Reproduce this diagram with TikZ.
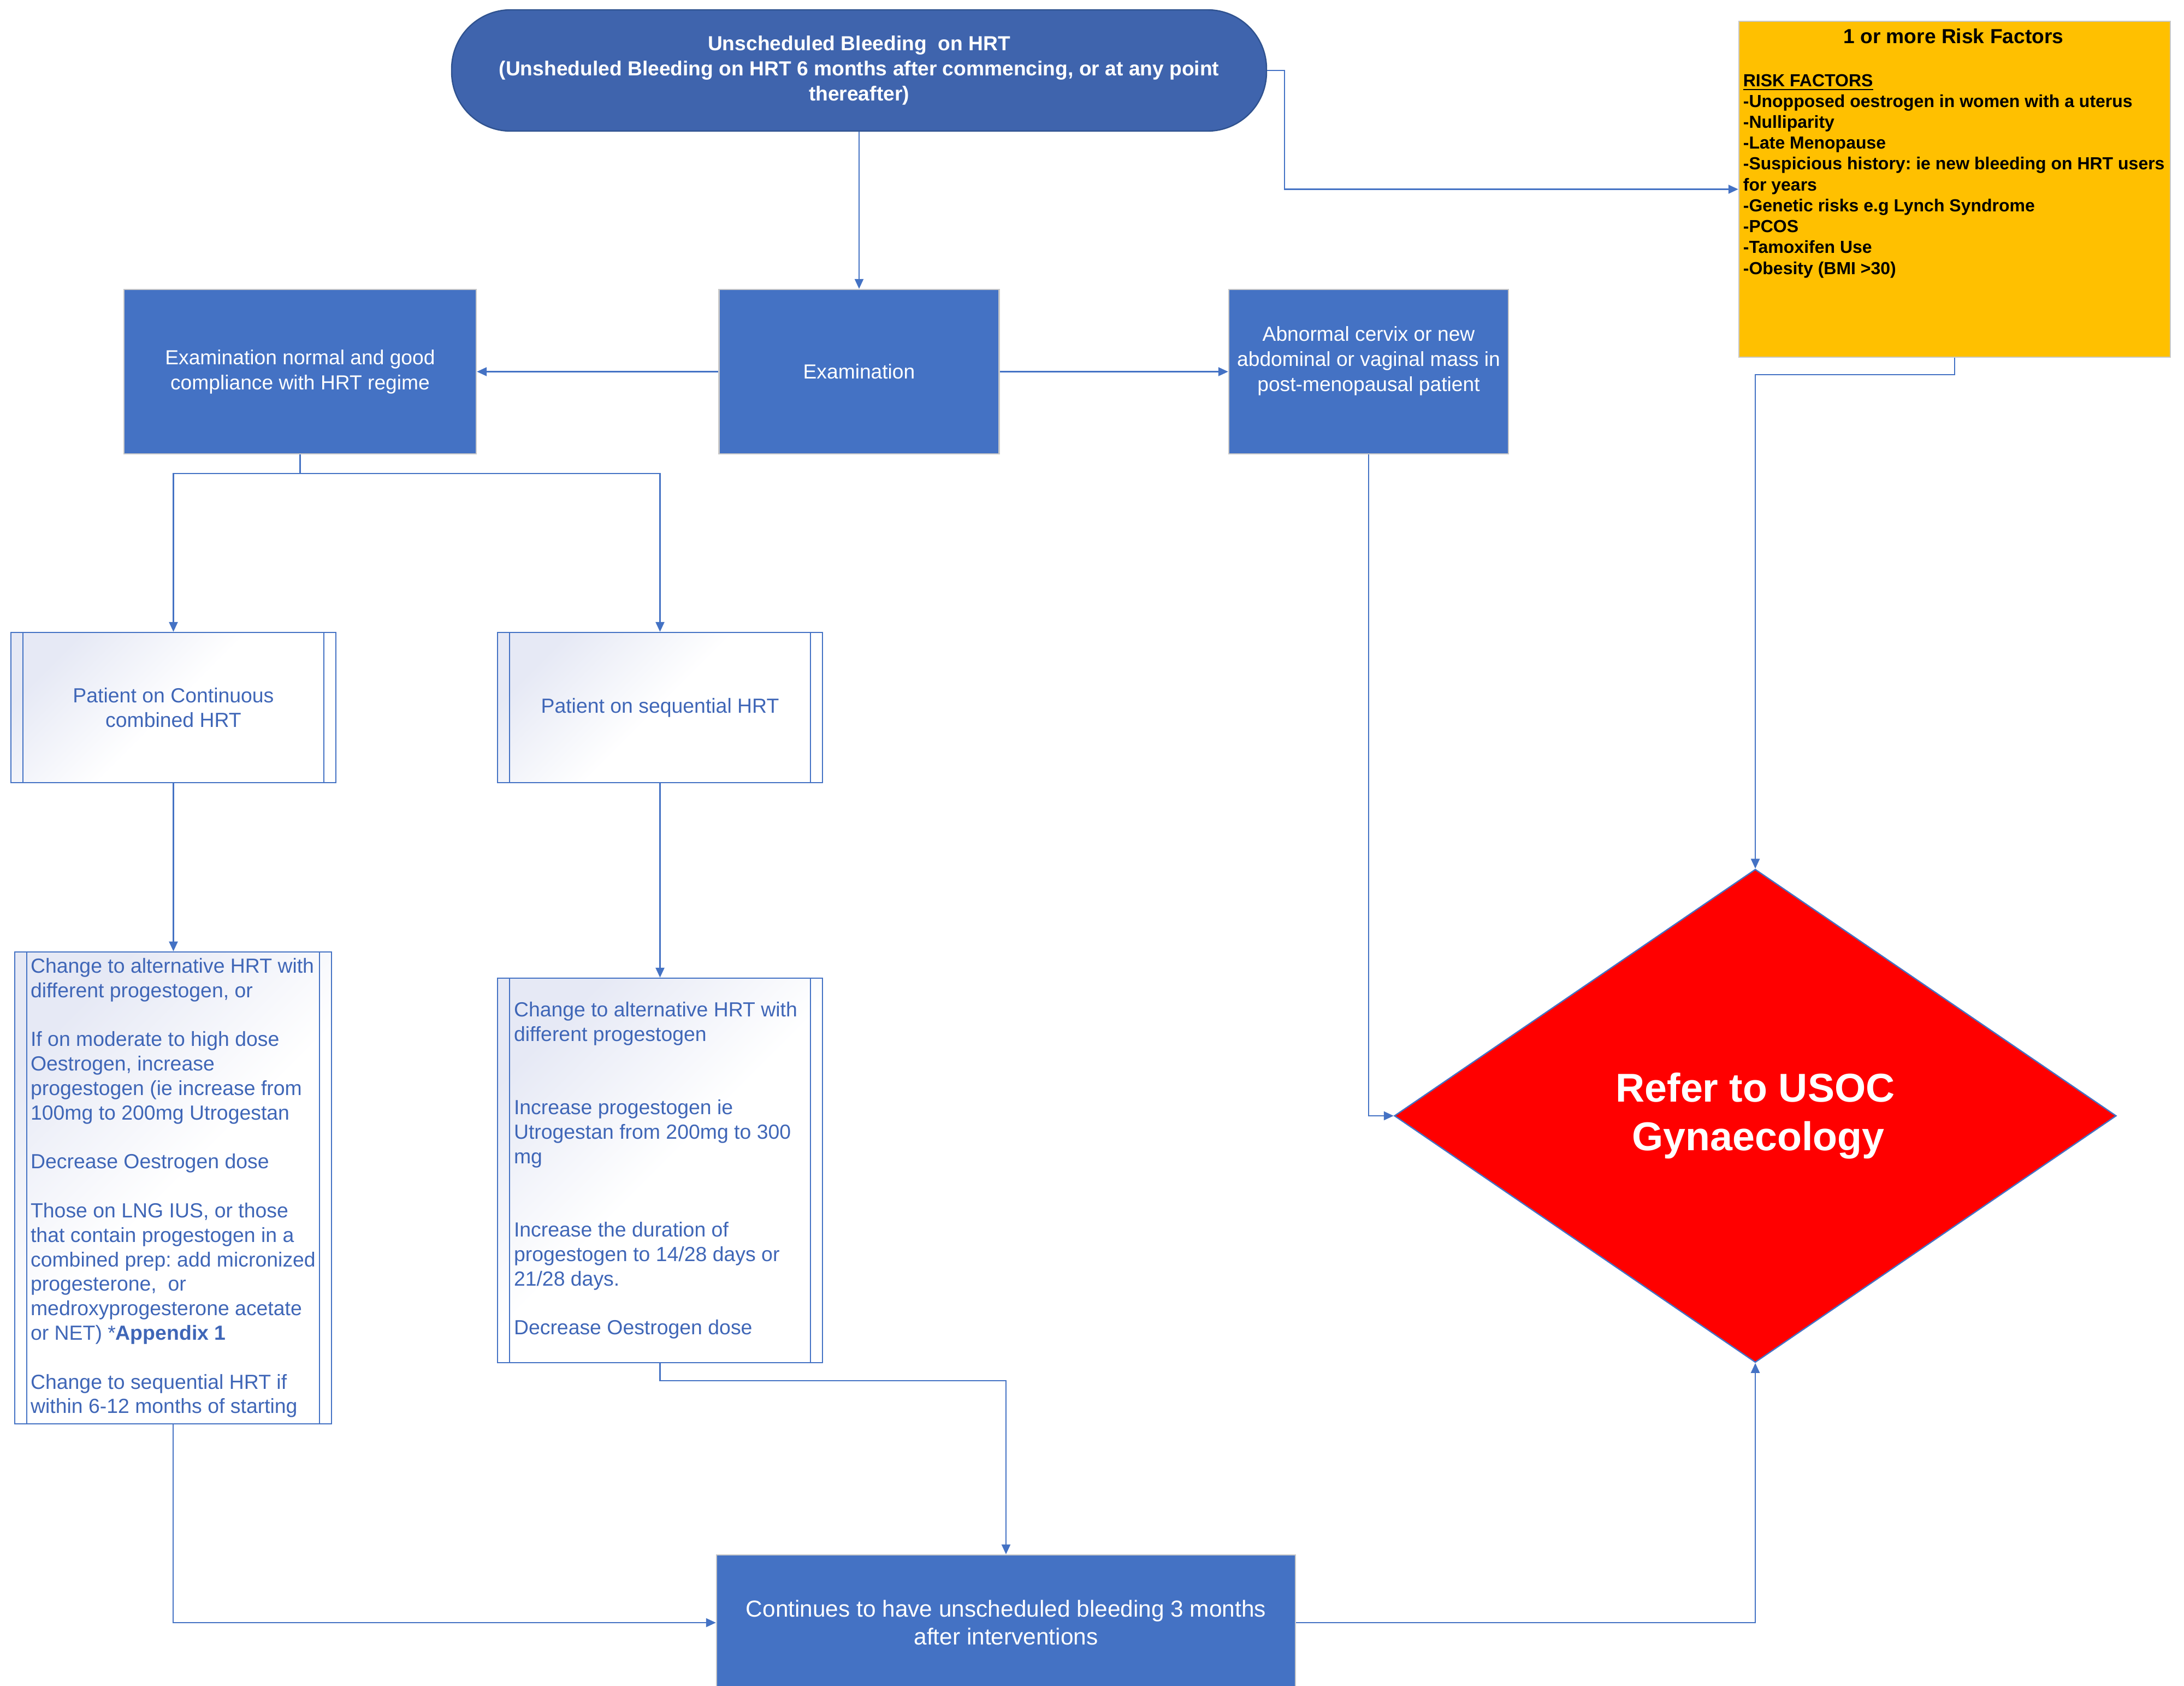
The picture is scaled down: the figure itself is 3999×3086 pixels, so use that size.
\documentclass[tikz,border=0pt]{standalone}
\usepackage{fontspec}
\setmainfont{Liberation Sans}
\usetikzlibrary{shapes.geometric,arrows.meta}
\definecolor{lineblue}{HTML}{4472C4}
\definecolor{boxblue}{HTML}{4472C4}
\definecolor{termblue}{HTML}{3F64AD}
\definecolor{termedge}{HTML}{2F528F}
\definecolor{bordergrey}{HTML}{C8C8C8}
\definecolor{textblue}{HTML}{3F66B7}
\definecolor{lav}{HTML}{E6E9F5}
\definecolor{riskorange}{HTML}{FFC000}
\tikzset{
  conn/.style={draw=lineblue, line width=0.6pt},
  arr/.style={conn, -{Triangle[length=4.5pt,width=4pt]}},
  bluebox/.style={rectangle, fill=boxblue, draw=bordergrey, line width=0.6pt, text=white,
    font=\fontsize{9.3}{11.5}\selectfont, align=center, inner sep=0pt},
  ppbox/.style={rectangle, draw=lineblue, line width=0.6pt, top color=lav, bottom color=white,
    middle color=white, shading angle=45, text=textblue, inner sep=0pt,
    font=\fontsize{9.35}{11.2}\selectfont},
  ppline/.style={draw=lineblue, line width=0.6pt},
}
\frenchspacing
\begin{document}
\frenchspacing
\begin{tikzpicture}[x=0.25pt,y=-0.25pt]
\useasboundingbox (0,0) rectangle (3999,3086);
\fill[white] (0,0) rectangle (3999,3086);

% top terminal
\node[rectangle, rounded corners=27pt, fill=termblue, draw=termedge, line width=0.6pt,
  minimum width=373pt, minimum height=55.5pt, inner sep=0pt, text=white, align=center,
  font=\fontsize{9.3}{11.5}\selectfont\bfseries] (term) at (1573,129)
  {Unscheduled Bleeding~ on HRT\\(Unsheduled Bleeding on HRT 6 months after commencing, or at any point\\thereafter)};

% examination row
\node[bluebox, minimum width=128.25pt, minimum height=75.25pt] (exam) at (1573,680.5) {Examination};
\node[bluebox, minimum width=161.25pt, minimum height=75.25pt] (normal) at (549.5,680.5)
  {Examination normal and good\\compliance with HRT regime};
\node[bluebox, minimum width=128pt, minimum height=75.25pt] (abn) at (2506,680.5)
  {Abnormal cervix or new\\abdominal or vaginal mass in\\post-menopausal patient\\[0pt]\mbox{}};

% risk factors
\node[rectangle, fill=riskorange, draw=bordergrey, line width=0.6pt,
  minimum width=197.5pt, minimum height=153.75pt, inner sep=0pt] (risk) at (3579,346.5) {};
\node[anchor=north west, inner sep=0pt, align=left, text=black,
  font=\fontsize{8}{9.56}\selectfont\bfseries] (risktxt) at (3191,52)
  {\makebox[192.5pt][c]{\fontsize{9.3}{9.56}\selectfont 1 or more Risk Factors}\\[10pt]
   \underline{RISK FACTORS}\\
   -Unopposed oestrogen in women with a uterus\\
   -Nulliparity\\
   -Late Menopause\\
   -Suspicious history: ie new bleeding on HRT users\\
   for years\\
   -Genetic risks e.g Lynch Syndrome\\
   -PCOS\\
   -Tamoxifen Use\\
   -Obesity (BMI >30)};

% predefined process boxes
\node[ppbox, minimum width=148.75pt, minimum height=68.75pt, align=center] (cont) at (317.5,1295.5)
  {Patient on Continuous\\combined HRT};
\node[ppbox, minimum width=148.75pt, minimum height=68.75pt, align=center] (seq) at (1208.5,1295.5)
  {Patient on sequential HRT};
\node[ppbox, minimum width=145pt, minimum height=216pt, align=left] (b3) at (317,2175)
  {Change to alternative HRT with\\
   different progestogen, or\\[11.2pt]
   If on moderate to high dose\\
   Oestrogen, increase\\
   progestogen (ie increase from\\
   100mg to 200mg Utrogestan\\[11.2pt]
   Decrease Oestrogen dose\\[11.2pt]
   Those on LNG IUS, or those\\
   that contain progestogen in a\\
   combined prep: add micronized\\
   progesterone,~ or\\
   medroxyprogesterone acetate\\
   or NET) *\textbf{Appendix 1}\\[11.2pt]
   Change to sequential HRT if\\
   within 6-12 months of starting};
\node[ppbox, minimum width=148.75pt, minimum height=176pt, align=left] (b4) at (1208.5,2143)
  {Change to alternative HRT with\rule{4pt}{0pt}\\
   different progestogen\\[22.4pt]
   Increase progestogen ie\\
   Utrogestan from 200mg to 300\\
   mg\\[22.4pt]
   Increase the duration of\\
   progestogen to 14/28 days or\\
   21/28 days.\\[11.2pt]
   Decrease Oestrogen dose};
\foreach \n in {cont,seq,b3,b4}{
  \draw[ppline] ([xshift=5.75pt]\n.north west) -- ([xshift=5.75pt]\n.south west)
                ([xshift=-5.75pt]\n.north east) -- ([xshift=-5.75pt]\n.south east);
}

% continues box
\node[bluebox, minimum width=265pt, minimum height=62pt, font=\fontsize{10.6}{12.75}\selectfont]
  (cnt) at (1842,2971) {Continues to have unscheduled bleeding 3 months\\after interventions};

% diamond
\node[diamond, fill=red, draw=lineblue, line width=0.6pt, minimum width=330.5pt, minimum height=225.75pt,
  inner sep=0pt, text=white, align=center, font=\fontsize{18.4}{22.3}\selectfont\bfseries]
  (dia) at (3214,2043) {Refer to USOC\hspace{0.3em}\\\hspace{0.15em}Gynaecology};

% helper coordinates
\coordinate (c1) at (2352,129);
\coordinate (split) at (549.5,867);
\coordinate (c2) at (1208.5,2528);
\coordinate (c3) at (3579,686);

% connectors
\draw[arr] (term.south) -- (exam.north);
\draw[arr] (term.east) -- (c1) |- (risk.west);
\draw[arr] (exam.west) -- (normal.east);
\draw[arr] (exam.east) -- (abn.west);
\draw[conn] (normal.south) -- (split);
\draw[arr] (split) -| (cont.north);
\draw[arr] (split) -| (seq.north);
\draw[arr] (cont.south) -- (cont.south |- b3.north);
\draw[arr] (seq.south) -- (b4.north);
\draw[arr] (b3.south) |- (cnt.west);
\draw[arr] (b4.south) -- (c2) -| (cnt.north);
\draw[arr] (cnt.east) -| (dia.south);
\draw[arr] (risk.south) -- (c3) -| (dia.north);
\draw[arr] (abn.south) |- (dia.west);
\end{tikzpicture}
\end{document}
